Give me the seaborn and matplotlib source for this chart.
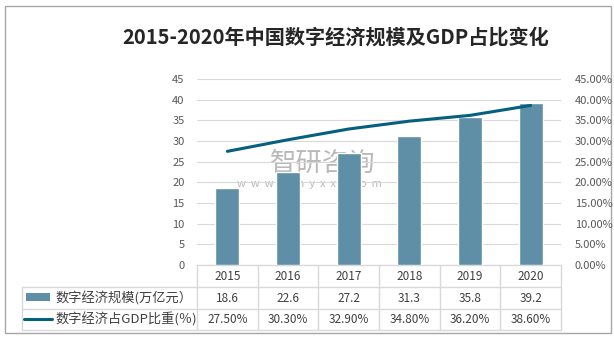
import numpy as np
import pandas as pd
import matplotlib
matplotlib.use("Agg")
import matplotlib.pyplot as plt
import seaborn as sns
from matplotlib.patches import Rectangle
from matplotlib.lines import Line2D

# ---- data ----
years = ["2015", "2016", "2017", "2018", "2019", "2020"]
scale = [18.6, 22.6, 27.2, 31.3, 35.8, 39.2]          # 万亿元
share = [27.50, 30.30, 32.90, 34.80, 36.20, 38.60]    # %
left_ticks = [0, 5, 10, 15, 20, 25, 30, 35, 40, 45]
right_ticks = [0, 5, 10, 15, 20, 25, 30, 35, 40, 45]  # %

title = "2015-2020年中国数字经济规模及GDP占比变化"
bar_label = "数字经济规模(万亿元）"
line_label = "数字经济占GDP比重(％)"

bar_color = "#5E8FA6"
line_color = "#04607E"
grid_color = "#D9D9D9"
tick_color = "#595959"
text_color = "#404040"

sns.set_theme(style="white")
plt.rcParams["font.family"] = ["Noto Sans CJK SC", "DejaVu Sans"]

W, H = 614, 340
fig = plt.figure(figsize=(W / 100, H / 100), dpi=100)
fig.patch.set_facecolor("white")

# overlay in pixel coordinates for frame, title, data table
ov = fig.add_axes([0, 0, 1, 1])
ov.set_xlim(0, W)
ov.set_ylim(H, 0)
ov.axis("off")

# plot area (pixels)
L, R, T, B = 197, 561, 79, 265
n = len(years)
ax = fig.add_axes([L / W, 1 - B / H, (R - L) / W, (B - T) / H])
ax.patch.set_visible(False)

df = pd.DataFrame({"year": years, "scale": scale, "share": share})
sns.barplot(data=df, x="year", y="scale", color=bar_color, saturation=1,
            width=0.4, ax=ax, zorder=2)
ax.set_xlim(-0.5, n - 0.5)
ax.set_ylim(0, 45)
ax.set_yticks(left_ticks)
ax.set_yticklabels([str(t) for t in left_ticks])
ax.set_xticks([])
ax.set_xlabel("")
ax.set_ylabel("")
ax.grid(axis="y", color=grid_color, lw=0.8, zorder=0)
ax.grid(axis="x", visible=False)
ax.set_axisbelow(True)
for s in ax.spines.values():
    s.set_visible(False)
ax.tick_params(axis="y", length=0, pad=9, labelsize=8, labelcolor=tick_color)

ax2 = ax.twinx()
ax2.patch.set_visible(False)
sns.lineplot(x=np.arange(n), y=np.array(share) / 100, color=line_color,
             lw=2.2, ax=ax2, zorder=3)
ax2.set_ylim(0, 0.45)
ax2.set_yticks([t / 100 for t in right_ticks])
ax2.set_yticklabels([f"{t:.2f}%" for t in right_ticks])
ax2.set_xlim(-0.5, n - 0.5)
ax2.set_ylabel("")
ax2.grid(False)
for s in ax2.spines.values():
    s.set_visible(False)
ax2.tick_params(axis="y", length=0, pad=10, labelsize=8, labelcolor=tick_color)

# outer frame
ov.add_patch(Rectangle((5, 6), 606, 327, fill=False, ec="#A6A6A6", lw=1))

# title
ov.text(336, 37, title, ha="center", va="center", fontsize=14.5,
        fontweight="bold", color="#262626")

# watermark
ov.text(270, 163, "智研咨询", ha="left", va="center", fontsize=19,
        color="#9A9A9A", alpha=0.7)
ov.text(237, 184, "w  w  w  .  c  h  y  x  x  .  c  o  m", ha="left",
        va="center", fontsize=8, color="#9A9A9A", alpha=0.7)

# data table
col_w = (R - L) / n
rows = [265, 287, 309, 330]
leg_x = 22
ov.plot([L, R], [rows[0], rows[0]], color=grid_color, lw=1)
for y in rows[1:]:
    ov.plot([leg_x, R], [y, y], color=grid_color, lw=1)
ov.plot([leg_x, leg_x], [rows[1], rows[3]], color=grid_color, lw=1)
for i in range(n + 1):
    x = L + i * col_w
    ov.plot([x, x], [rows[0], rows[3]], color=grid_color, lw=1)

for i in range(n):
    cx = L + (i + 0.5) * col_w
    ov.text(cx, (rows[0] + rows[1]) / 2, years[i], ha="center", va="center",
            fontsize=8.5, color=text_color)
    ov.text(cx, (rows[1] + rows[2]) / 2, f"{scale[i]:.1f}", ha="center",
            va="center", fontsize=8.5, color=text_color)
    ov.text(cx, (rows[2] + rows[3]) / 2, f"{share[i]:.2f}%", ha="center",
            va="center", fontsize=8.5, color=text_color)

# legend keys inside the table
ov.add_patch(Rectangle((26, 293), 24, 7.5, color=bar_color, lw=0))
ov.add_line(Line2D([24, 52], [319, 319], color=line_color, lw=2.2))
ov.text(55, (rows[1] + rows[2]) / 2, bar_label, ha="left", va="center",
        fontsize=9.5, color=text_color)
ov.text(55, (rows[2] + rows[3]) / 2, line_label, ha="left", va="center",
        fontsize=9.5, color=text_color)

fig.savefig("out.png", dpi=100, facecolor="white")
